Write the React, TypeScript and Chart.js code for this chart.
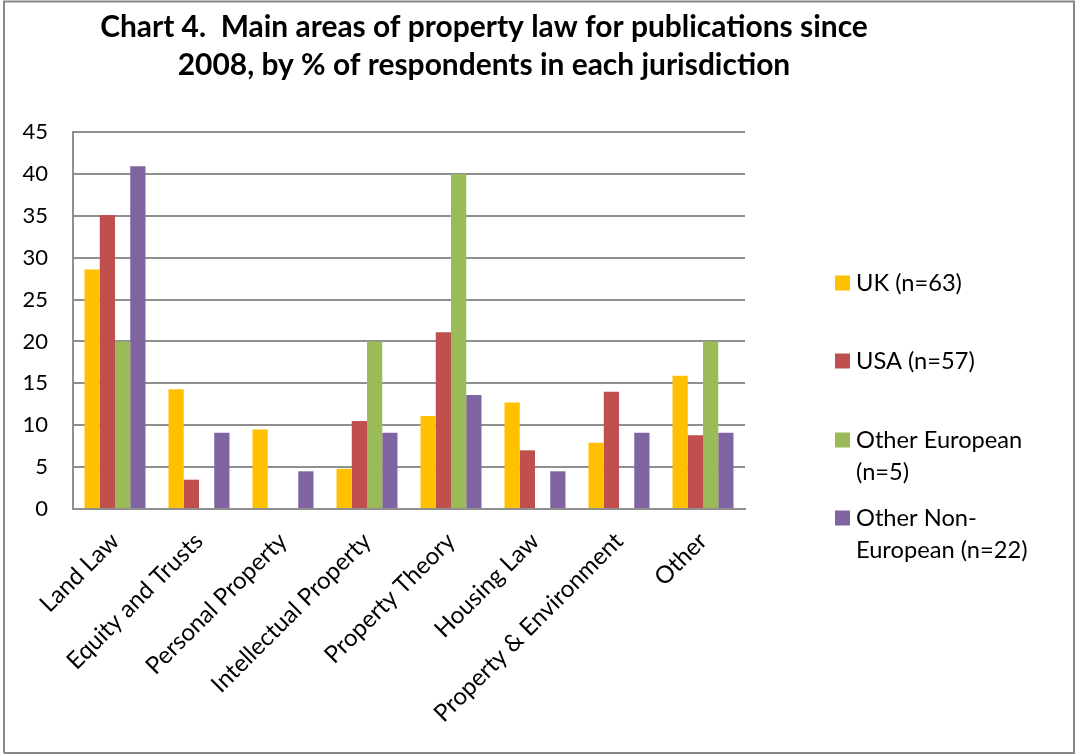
import React, { useEffect, useRef } from "react";
import { Chart, registerables } from "chart.js";

Chart.register(...registerables);

const categories = [
  "Land Law",
  "Equity and Trusts",
  "Personal Property",
  "Intellectual Property",
  "Property Theory",
  "Housing Law",
  "Property & Environment",
  "Other",
];
const ukValues = [28.6, 14.3, 9.5, 4.8, 11.1, 12.7, 7.9, 15.9];
const usaValues = [35.1, 3.5, 0, 10.5, 21.1, 7.0, 14.0, 8.8];
const otherEuropeanValues = [20, 0, 0, 20, 40, 0, 0, 20];
const otherNonEuropeanValues = [40.9, 9.1, 4.5, 9.1, 13.6, 4.5, 9.1, 9.1];

const seriesNames = ["UK (n=63)", "USA (n=57)", "Other European (n=5)", "Other Non-European (n=22)"];
const legendLines = [["UK (n=63)"], ["USA (n=57)"], ["Other European", "(n=5)"], ["Other Non-", "European (n=22)"]];
const seriesColors = ["#FFC000", "#C0504D", "#9BBB59", "#8064A2"];
const titleLines = [
  "Chart 4.  Main areas of property law for publications since",
  "2008, by % of respondents in each jurisdiction",
];
const yMin = 0;
const yMax = 45;
const yStep = 5;

const FONT = "Lato, 'Open Sans', sans-serif";
const W = 1075;
const H = 756;

function fitSize(ctx: CanvasRenderingContext2D, text: string, weight: string, target: number) {
  ctx.save();
  ctx.font = `${weight} 100px ${FONT}`;
  const w = ctx.measureText(text).width;
  ctx.restore();
  return (100 * target) / w;
}

export default function App() {
  const ref = useRef<HTMLCanvasElement | null>(null);

  useEffect(() => {
    document.body.style.margin = "0";
    const canvas = ref.current!;
    const ctx0 = canvas.getContext("2d")!;
    const titleSize = fitSize(ctx0, titleLines[0], "bold", 768);
    const legendSize = fitSize(ctx0, "UK (n=63)", "normal", 106);

    const framePlugin = {
      id: "frame",
      beforeDraw(chart: any) {
        const c = chart.ctx;
        c.save();
        c.fillStyle = "#ffffff";
        c.fillRect(0, 0, W, H);
        c.strokeStyle = "#878787";
        c.lineWidth = 2;
        c.beginPath();
        c.moveTo(4, 753);
        c.lineTo(4, 1.5);
        c.lineTo(1074, 1.5);
        c.lineTo(1074, 753);
        c.lineTo(4, 753);
        c.stroke();
        c.restore();
      },
      afterDraw(chart: any) {
        const c = chart.ctx;
        c.save();
        c.fillStyle = "#000000";
        c.textAlign = "center";
        c.textBaseline = "alphabetic";
        c.font = `bold ${titleSize}px ${FONT}`;
        c.fillText(titleLines[0], 484, 37);
        c.fillText(titleLines[1], 484, 75);

        c.font = `normal ${legendSize}px ${FONT}`;
        c.textAlign = "left";
        c.textBaseline = "middle";
        const squareY = [283, 361, 440, 518];
        legendLines.forEach((lines, i) => {
          c.fillStyle = seriesColors[i];
          c.fillRect(835, squareY[i] - 7.5, 15, 15);
          c.fillStyle = "#000000";
          lines.forEach((t, j) => {
            c.fillText(t, 856, squareY[i] + j * 32);
          });
        });
        c.restore();
      },
    };

    const valueSets = [ukValues, usaValues, otherEuropeanValues, otherNonEuropeanValues];

    const chart = new Chart(canvas, {
      type: "bar",
      data: {
        labels: categories,
        datasets: valueSets.map((vals, i) => ({
          label: seriesNames[i],
          data: vals,
          backgroundColor: seriesColors[i],
          borderWidth: 0,
          categoryPercentage: 0.726,
          barPercentage: 1.0,
        })),
      },
      options: {
        responsive: false,
        animation: false,
        devicePixelRatio: 1,
        layout: { padding: { left: 0, right: 330, top: 132, bottom: 0 } },
        plugins: {
          legend: { display: false },
          title: { display: false },
          tooltip: { enabled: false },
        },
        scales: {
          x: {
            grid: { display: false, drawTicks: false },
            border: { display: true, color: "#8f8f8f", width: 2 },
            ticks: {
              color: "#000000",
              font: { family: FONT, size: 24 },
              maxRotation: 45,
              minRotation: 45,
              padding: 18,
              autoSkip: false,
            },
            afterFit(scale: any) {
              scale.height = H - 509;
            },
          },
          y: {
            min: yMin,
            max: yMax,
            grid: { color: "#8f8f8f", lineWidth: 2, drawTicks: false },
            border: { display: true, color: "#8f8f8f", width: 2 },
            ticks: {
              stepSize: yStep,
              color: "#000000",
              font: { family: FONT, size: 22 },
              padding: 25,
            },
            afterFit(scale: any) {
              scale.width = 73;
            },
          },
        },
      },
      plugins: [framePlugin],
    } as any);

    return () => chart.destroy();
  }, []);

  return (
    <div style={{ width: W, height: H, position: "relative" }}>
      <canvas ref={ref} width={W} height={H} style={{ width: W, height: H, display: "block" }} />
    </div>
  );
}
